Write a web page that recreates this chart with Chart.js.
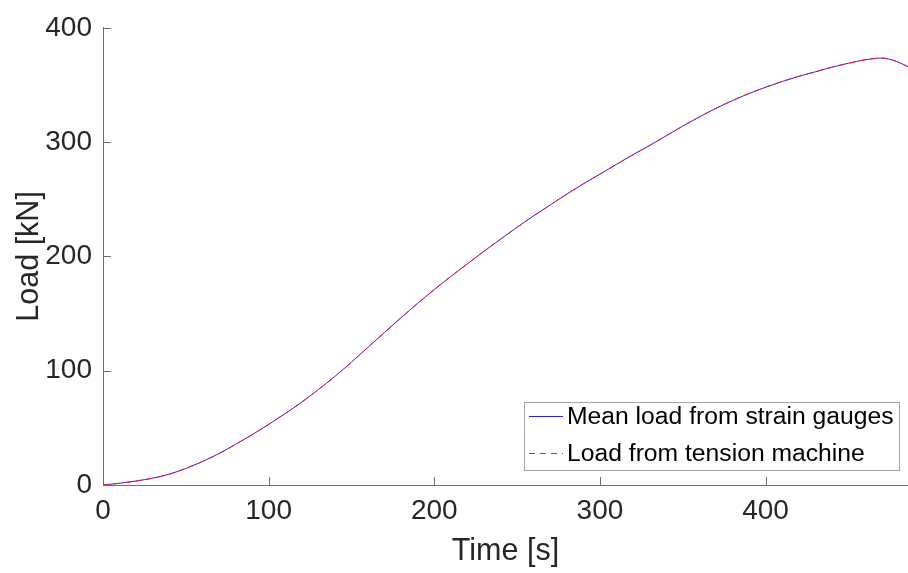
<!DOCTYPE html>
<html>
<head>
<meta charset="utf-8">
<script src="https://cdn.jsdelivr.net/npm/chart.js@4/dist/chart.umd.min.js"></script>
<style>
  html, body { margin: 0; padding: 0; background: #fff; }
  #wrap { width: 908px; height: 573px; }
</style>
</head>
<body>
<div id="wrap"><canvas id="chart"></canvas></div>
<script>
const FONT = "'Liberation Sans', Arial, Helvetica, sans-serif";
const BLUE = "#2020ff";
const RED = "#ff1a1a";
const DASH = [6, 5];

// values
const timeS = [0, 10, 20, 30, 40, 50, 60, 70, 80, 90, 100, 110, 120, 130, 140, 150, 160, 170, 180, 190, 200, 210, 220, 230, 240, 250, 260, 270, 280, 290, 300, 310, 320, 330, 340, 350, 360, 370, 380, 390, 400, 410, 420, 430, 440, 450, 460, 465, 470, 475, 480, 486];
const gaugeLoad = [0, 1.5, 3.5, 6, 9.5, 14.5, 20.5, 27.5, 35.5, 44, 53, 62.5, 72.5, 83.5, 95, 107.5, 120.5, 133.5, 146.5, 159, 171, 182.5, 193.5, 204.5, 215, 225.5, 235.5, 245, 254.5, 263.5, 272, 280.5, 289, 297, 305.5, 314, 322, 329.5, 336.3, 342.5, 348, 353, 357.5, 361.5, 365.5, 369, 372, 373, 373.5, 372.5, 370, 366];
const machineLoad = [0, 1.5, 3.5, 6, 9.5, 14.5, 20.5, 27.5, 35.5, 44, 53, 62.5, 72.5, 83.5, 95, 107.5, 120.5, 133.5, 146.5, 159, 171, 182.5, 193.5, 204.5, 215, 225.5, 235.5, 245, 254.5, 263.5, 272, 280.5, 289, 297, 305.5, 314, 322, 329.5, 336.3, 342.5, 348, 353, 357.5, 361.5, 365.5, 369, 372, 373, 373.5, 372.5, 370, 366];
const seriesLabels = ["Mean load from strain gauges", "Load from tension machine"];
const xTicks = [0, 100, 200, 300, 400];
const yTicks = [0, 100, 200, 300, 400];

function points(ys) {
  return timeS.map((t, i) => ({ x: t, y: ys[i] }));
}

// MATLAB style inward ticks
const inwardTicks = {
  id: "inwardTicks",
  afterDraw(chart) {
    const { ctx, chartArea, scales } = chart;
    ctx.save();
    ctx.strokeStyle = "#6e6e6e";
    ctx.lineWidth = 1;
    ctx.beginPath();
    for (const v of xTicks) {
      const px = Math.round(scales.x.getPixelForValue(v)) + 0.5;
      ctx.moveTo(px, chartArea.bottom);
      ctx.lineTo(px, chartArea.bottom - 8);
    }
    for (const v of yTicks) {
      const py = Math.round(scales.y.getPixelForValue(v)) + 0.5;
      ctx.moveTo(chartArea.left, py);
      ctx.lineTo(chartArea.left + 8, py);
    }
    ctx.stroke();
    ctx.restore();
  },
};

const boxLegend = {
  id: "boxLegend",
  afterDraw(chart) {
    const { ctx, chartArea } = chart;
    const styles = [{ color: BLUE, dash: [] }, { color: RED, dash: DASH }];
    ctx.save();
    ctx.font = "24.7px " + FONT;
    const textW = Math.max(...seriesLabels.map(s => ctx.measureText(s).width));
    const w = Math.round(42 + textW + 6);
    const h = 68;
    const right = Math.round(chartArea.right - 9);
    const bottom = Math.round(chartArea.bottom - 15);
    const left = right - w;
    const top = bottom - h;
    ctx.fillStyle = "#fff";
    ctx.fillRect(left, top, w, h);
    ctx.strokeStyle = "#a6a6a6";
    ctx.lineWidth = 1;
    ctx.strokeRect(left + 0.5, top + 0.5, w, h);
    seriesLabels.forEach((label, i) => {
      const y = top + 14 + i * 37;
      ctx.beginPath();
      ctx.strokeStyle = styles[i].color;
      ctx.setLineDash(styles[i].dash);
      ctx.moveTo(left + 5, y + 0.5);
      ctx.lineTo(left + 39, y + 0.5);
      ctx.stroke();
      ctx.setLineDash([]);
      ctx.fillStyle = "#000";
      ctx.textBaseline = "middle";
      ctx.fillText(label, left + 43, y + 1);
    });
    ctx.restore();
  },
};

new Chart(document.getElementById("chart"), {
  type: "line",
  data: {
    datasets: [
      {
        label: seriesLabels[0],
        data: points(gaugeLoad),
        borderColor: BLUE,
        borderWidth: 1,
        pointRadius: 0,
        cubicInterpolationMode: "monotone",
        order: 1,
      },
      {
        label: seriesLabels[1],
        data: points(machineLoad),
        borderColor: RED,
        borderWidth: 1,
        borderDash: DASH,
        pointRadius: 0,
        cubicInterpolationMode: "monotone",
        order: 0,
      },
    ],
  },
  options: {
    responsive: true,
    maintainAspectRatio: false,
    animation: false,
    layout: { padding: { top: 17, right: 0, bottom: 0, left: 0 } },
    plugins: { legend: { display: false }, tooltip: { enabled: false } },
    scales: {
      x: {
        type: "linear",
        min: 0,
        max: 486,
        afterFit: s => { s.height = 88; },
        grid: { display: false, drawTicks: false },
        border: { display: true, color: "#6e6e6e", width: 1 },
        ticks: {
          stepSize: 100,
          includeBounds: false,
          padding: 9,
          color: "#262626",
          font: { family: FONT, size: 28 },
          maxRotation: 0,
        },
        title: {
          display: true,
          text: "Time [s]",
          color: "#262626",
          font: { family: FONT, size: 30.5, lineHeight: 1.2 },
          padding: { top: 0, bottom: 3 },
        },
      },
      y: {
        min: 0,
        max: 400,
        afterFit: s => { s.width = 103; },
        grid: { display: false, drawTicks: false },
        border: { display: true, color: "#6e6e6e", width: 1 },
        ticks: {
          stepSize: 100,
          padding: 11,
          color: "#262626",
          font: { family: FONT, size: 28 },
        },
        title: {
          display: true,
          text: "Load [kN]",
          color: "#262626",
          font: { family: FONT, size: 30.5, lineHeight: 1.2 },
          padding: { top: 11, bottom: 0 },
        },
      },
    },
  },
  plugins: [inwardTicks, boxLegend],
});
</script>
</body>
</html>
